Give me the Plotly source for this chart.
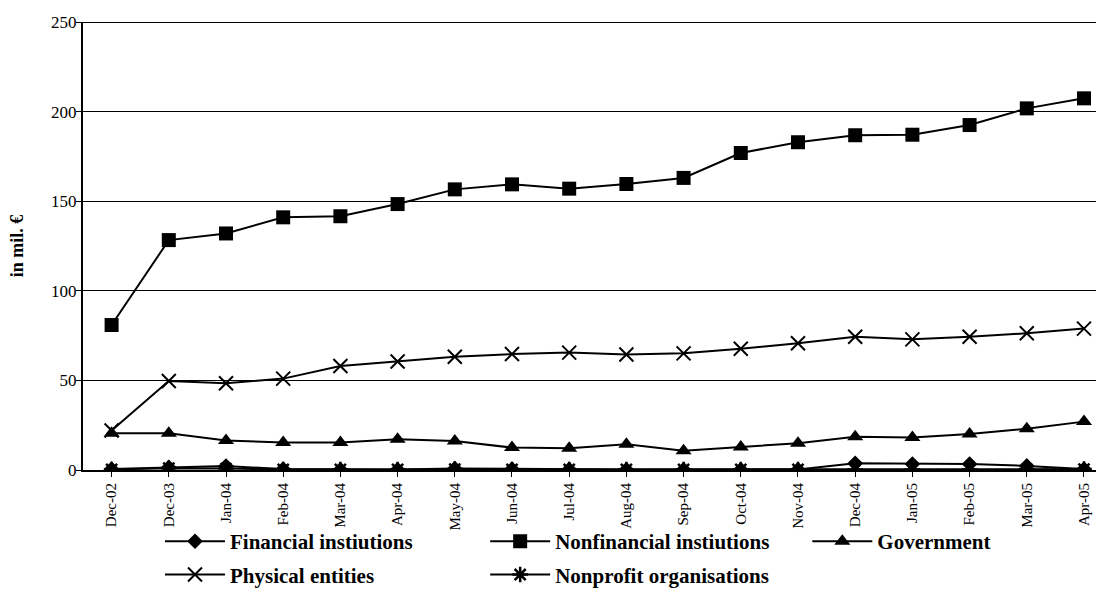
import plotly.graph_objects as go

# Monthly categories
months = ["Dec-02", "Dec-03", "Jan-04", "Feb-04", "Mar-04", "Apr-04", "May-04",
          "Jun-04", "Jul-04", "Aug-04", "Sep-04", "Oct-04", "Nov-04", "Dec-04",
          "Jan-05", "Feb-05", "Mar-05", "Apr-05"]

# Series values, in mil. €
financial = [0.5, 1.5, 2.2, 0.5, 0.3, 0.3, 0.8, 0.5, 0.4, 0.3, 0.3, 0.3, 0.3,
             3.7, 3.3, 3.3, 2.3, 0.5]
nonfinancial = [80.9, 128.3, 132.0, 141.0, 141.6, 148.4, 156.6, 159.4, 157.0,
                159.6, 163.0, 176.9, 182.9, 186.8, 187.1, 192.5, 201.8, 207.4]
government = [20.5, 20.5, 16.5, 15.4, 15.4, 17.1, 16.2, 12.5, 12.1, 14.3, 10.8,
              12.8, 14.9, 18.6, 18.2, 20.1, 23.0, 27.0]
physical = [22.0, 49.7, 48.4, 51.0, 58.0, 60.5, 63.2, 64.7, 65.5, 64.5, 65.1,
            67.7, 70.7, 74.4, 72.9, 74.4, 76.3, 78.9]
nonprofit = [0.3, 1.0, 0.8, 0.3, 0.3, 0.3, 0.5, 0.3, 0.3, 0.3, 0.3, 0.3, 0.3,
             0.3, 0.3, 0.3, 0.5, 0.5]

y_ticks = [0, 50, 100, 150, 200, 250]

FONT = "Liberation Serif"

# (name, values, marker style, legend column)
series = [
    ("Financial instiutions", financial, dict(symbol="diamond", size=12), "legend"),
    ("Nonfinancial instiutions", nonfinancial, dict(symbol="square", size=14), "legend2"),
    ("Government", government, dict(symbol="triangle-up", size=14), "legend3"),
    ("Physical entities", physical,
     dict(symbol="x-thin-open", size=14, line=dict(width=2, color="black")), "legend"),
    ("Nonprofit organisations", nonprofit,
     dict(symbol="asterisk-open", size=13, line=dict(width=2.5, color="black")), "legend2"),
]

x_idx = list(range(len(months)))

fig = go.Figure()
for name, vals, mk, leg in series:
    fig.add_trace(go.Scatter(
        x=x_idx, y=vals, name=name, mode="lines+markers",
        line=dict(color="black", width=2),
        marker=dict(color="black", **mk),
        legend=leg, legendgroup=name,
    ))

legend_common = dict(
    orientation="v", xanchor="left", y=-0.114, yanchor="top",
    font=dict(family=FONT, size=21, color="black", weight="bold"),
    itemwidth=60, tracegroupgap=3,
    bgcolor="rgba(0,0,0,0)", traceorder="grouped",
)

fig.update_layout(
    width=1096, height=610,
    margin=dict(l=83, r=0, t=22, b=140, autoexpand=False),
    paper_bgcolor="white", plot_bgcolor="white",
    font=dict(family=FONT, color="black", size=16),
    showlegend=True,
    legend=dict(x=0.076, **legend_common),
    legend2=dict(x=0.397, **legend_common),
    legend3=dict(x=0.715, **legend_common),
)

fig.update_xaxes(
    range=[-0.5, 17.21],
    tickmode="array", tickvals=x_idx, ticktext=months, tickangle=-90,
    tickfont=dict(family=FONT, size=15, color="black"),
    showgrid=False, zeroline=False,
    showline=True, linecolor="black", linewidth=2,
    ticks="outside", ticklen=5, tickcolor="black", tickwidth=1,
    tickson="boundaries",
)

fig.update_yaxes(
    range=[0, 250], tickvals=y_ticks,
    tickfont=dict(family=FONT, size=17, color="black"),
    showgrid=True, gridcolor="black", gridwidth=1,
    zeroline=False,
    showline=True, linecolor="black", linewidth=2,
    ticks="outside", ticklen=5, tickcolor="black", tickwidth=1,
)
# Pull the value labels a little closer to the axis line
try:
    fig.update_yaxes(ticklabelstandoff=-4)
except ValueError:
    pass

# Axis title
fig.add_annotation(
    text="<b>in mil. €</b>", xref="paper", yref="paper", x=-0.065, y=0.5,
    xanchor="center", yanchor="middle", textangle=-90, showarrow=False,
    font=dict(family=FONT, size=18, color="black"),
)

# Upper frame edge of the plotting area
fig.add_shape(type="line", xref="paper", yref="y", x0=0, x1=1, y0=250, y1=250,
              line=dict(color="black", width=2))

fig.write_html("out.html")
